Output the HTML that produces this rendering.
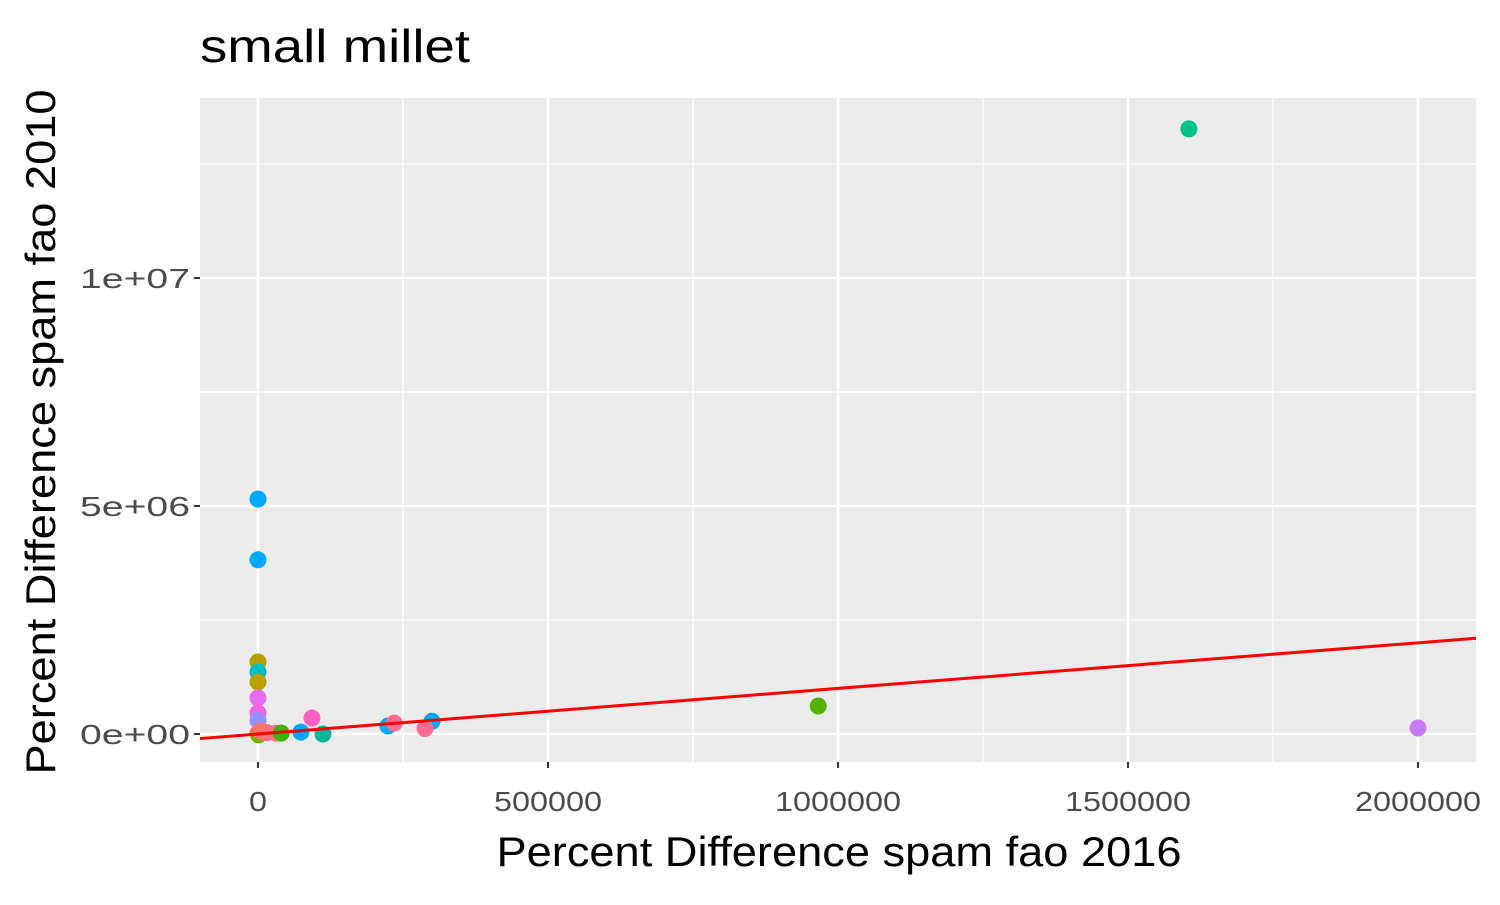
<!DOCTYPE html>
<html><head><meta charset="utf-8"><style>
body{margin:0;background:#fff;font-family:"Liberation Sans",sans-serif}
</style></head><body>
<svg id="c" width="1500" height="900" xmlns="http://www.w3.org/2000/svg"></svg>
<script>
const xs=[0,0,0,0,0,0,0,1000,31000,74000,93000,112000,224000,235000,300000,288000,0,0,1605000,966000,2000000,15000,40000,5000];
const ys=[1580000,1360000,1140000,790000,460000,300000,20000,-20000,20000,40000,350000,0,175000,240000,280000,120000,5150000,3820000,13270000,614000,131000,30000,20000,60000];
const cols=['#B79F00','#00BFC4','#B79F00','#E76BF3','#F564E3','#9590FF','#F8766D','#7CAE00','#FF6C91','#00A9FF','#FF61C3','#00BA9E','#00A9FF','#FF6C91','#00A9FF','#FF6C91','#00A9FF','#00A9FF','#00C08B','#53B400','#C77CFF','#FF6C91','#39B600','#F8766D'];
const xTicks=[0,500000,1000000,1500000,2000000];
const yTicks=[0,5000000,10000000];
const yLabels=['0e+00','5e+06','1e+07'];
const L=200,R=1476,T=98,B=762;
const X=v=>258+v*290/500000, Y=v=>734-v*228/5e6;
const s=document.getElementById('c');const ns='http://www.w3.org/2000/svg';
function el(t,a,txt){const e=document.createElementNS(ns,t);for(const k in a)e.setAttribute(k,a[k]);if(txt!==undefined)e.textContent=txt;s.appendChild(e);return e;}
let p=el('rect',{x:L,y:T,width:R-L,height:B-T,fill:'#EBEBEB'});

for(let i=0;i<xTicks.length-1;i++){const v=(xTicks[i]+xTicks[i+1])/2;let g=el('line',{x1:X(v),x2:X(v),y1:T,y2:B,stroke:'#fff','stroke-width':1.2});}
for(let i=0;i<yTicks.length;i++){const v=yTicks[i]+2500000;let g=el('line',{x1:L,x2:R,y1:Y(v),y2:Y(v),stroke:'#fff','stroke-width':1.2});}
xTicks.forEach(v=>{let g=el('line',{x1:X(v),x2:X(v),y1:T,y2:B,stroke:'#fff','stroke-width':2.6});
el('line',{x1:X(v),x2:X(v),y1:B,y2:B+6,stroke:'#333','stroke-width':2});
const lab=String(v);
let t=el('text',{x:X(v),y:B+49,'text-anchor':'middle','font-size':28,fill:'#4D4D4D',textLength:lab.length*18,lengthAdjust:'spacingAndGlyphs'},lab);});
yTicks.forEach((v,i)=>{let g=el('line',{x1:L,x2:R,y1:Y(v),y2:Y(v),stroke:'#fff','stroke-width':2.6});
el('line',{x1:L-6,x2:L,y1:Y(v),y2:Y(v),stroke:'#333','stroke-width':2});
let t=el('text',{x:L-10,y:Y(v)+10,'text-anchor':'end','font-size':28,fill:'#4D4D4D',textLength:110,lengthAdjust:'spacingAndGlyphs'},yLabels[i]);});
xs.forEach((v,i)=>{let c=el('circle',{cx:X(v),cy:Y(ys[i]),r:8.5,fill:cols[i]});});
let ln=el('line',{x1:L,y1:Y((L-258)*500000/290),x2:R,y2:Y((R-258)*500000/290),stroke:'#FF0000','stroke-width':3});

let t1=el('text',{x:200,y:62,'font-size':46,fill:'#000',textLength:270,lengthAdjust:'spacingAndGlyphs'},'small millet');
let t2=el('text',{x:839,y:866,'text-anchor':'middle','font-size':42,fill:'#000',textLength:685,lengthAdjust:'spacingAndGlyphs'},'Percent Difference spam fao 2016');
let t3=el('text',{x:0,y:0,'text-anchor':'middle','font-size':42,fill:'#000',textLength:685,lengthAdjust:'spacingAndGlyphs',transform:'translate(55,432) rotate(-90)'},'Percent Difference spam fao 2010');
</script>
</body></html>
